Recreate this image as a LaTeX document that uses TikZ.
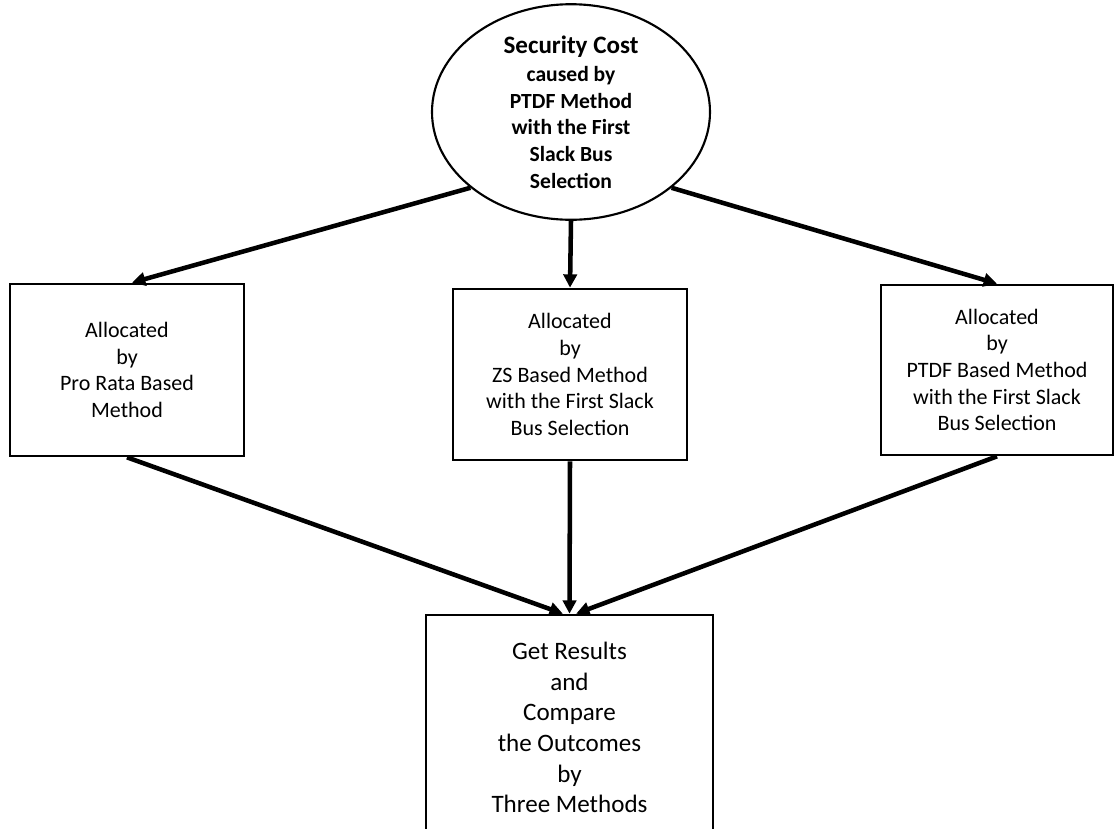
\documentclass[tikz,border=0pt]{standalone}
\usepackage{fontspec}
\setmainfont{Carlito}
\usetikzlibrary{shapes.geometric,arrows.meta,calc}
\begin{document}
\begin{tikzpicture}[x=0.75pt,y=-0.75pt,
  boxnode/.style={draw,line width=2pt,align=center,inner sep=0pt},
  sidetext/.style={font=\fontsize{16.5}{20}\selectfont},
  conn/.style={line width=3.4pt,-{Triangle[length=10pt,width=10pt]}}]
\clip (0,0) rectangle (1115,829);
\fill[white] (0,0) rectangle (1115,829);
\node[ellipse,draw,line width=1.6pt,inner sep=0pt,minimum width=208.5pt,minimum height=151.5pt,align=center,
  font=\bfseries\fontsize{16.2}{20}\selectfont] (E) at (571,112)
  {{\fontsize{18.8}{20}\selectfont Security Cost}\\[1pt] caused by\\ PTDF Method\\ with the First\\ Slack Bus\\ Selection};
\node[boxnode,sidetext,minimum width=175.5pt,minimum height=129pt] (L) at (127,370)
  {Allocated\\ by\\ Pro Rata Based\\ Method};
\node[boxnode,sidetext,minimum width=175.5pt,minimum height=128.25pt] (M) at (570,374.5)
  {Allocated\\ by\\ ZS Based Method\\ with the First Slack\\ Bus Selection};
\node[boxnode,sidetext,minimum width=174pt,minimum height=127.5pt] (R) at (997,370)
  {Allocated\\ by\\ PTDF Based Method\\ with the First Slack\\ Bus Selection};
\node[boxnode,font=\fontsize{18.8}{23}\selectfont,minimum width=215.25pt,minimum height=168.75pt] (B) at (569.5,727.5)
  {Get Results\\ and\\ Compare\\ the Outcomes\\ by\\ Three Methods};
\draw[conn] (E.217) -- ([xshift=3.75pt]L.north);
\draw[conn] (E.south) -- (M.north);
\draw[conn] (E.323) -- (R.north);
\draw[conn] (L.south) -- ([xshift=-5pt]B.north);
\draw[conn] (M.south) -- (B.north);
\draw[conn] (R.south) -- ([xshift=5pt]B.north);
\end{tikzpicture}
\end{document}
